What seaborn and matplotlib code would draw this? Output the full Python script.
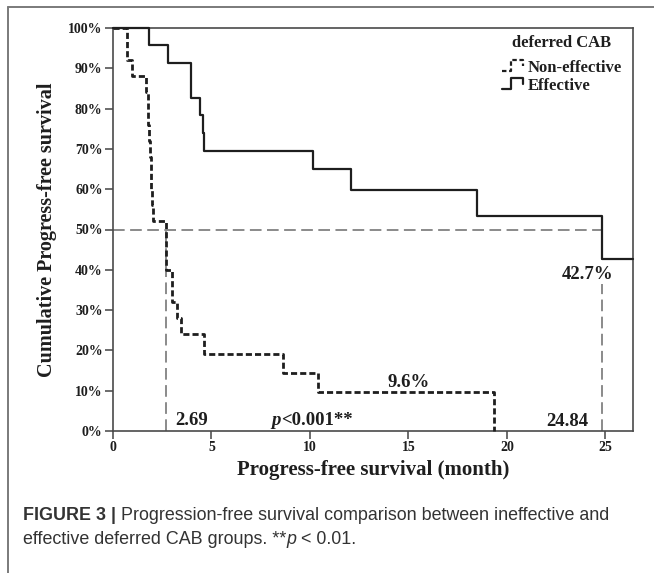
import matplotlib
matplotlib.use("Agg")
import matplotlib.pyplot as plt
import seaborn as sns
import pandas as pd
import numpy as np
from matplotlib.lines import Line2D
from matplotlib.legend_handler import HandlerBase

# ---------------- data ----------------
noneff_time = [0, 0.69, 0.95, 1.70, 1.76, 1.80, 1.84, 1.88, 1.92, 1.95, 1.99, 2.05,
               2.69, 2.97, 3.00, 3.23, 3.45, 4.62, 8.64, 10.39, 19.34]
noneff_surv = [1.00, 0.92, 0.88, 0.84, 0.80, 0.76, 0.72, 0.68, 0.64, 0.60, 0.56, 0.52,
               0.40, 0.36, 0.32, 0.28, 0.24, 0.192, 0.144, 0.096, 0.00]
eff_time = [0, 1.83, 2.77, 3.94, 4.42, 4.55, 4.63, 10.17, 12.06, 18.49, 24.84, 26.40]
eff_surv = [1.00, 0.957, 0.913, 0.826, 0.783, 0.739, 0.696, 0.649, 0.599, 0.533, 0.427, 0.427]

group_labels = ["Non-effective", "Effective"]
legend_title = "deferred CAB"
median_noneff = 2.69
median_eff = 24.84
median_level = 0.50
final_noneff_pct = "9.6%"
final_eff_pct = "42.7%"
p_text = "<0.001**"

y_ticks = [0.0, 0.1, 0.2, 0.3, 0.4, 0.5, 0.6, 0.7, 0.8, 0.9, 1.0]
y_ticklabels = ["0%", "10%", "20%", "30%", "40%", "50%", "60%", "70%", "80%", "90%", "100%"]
x_ticks = [0, 5, 10, 15, 20, 25]
x_label = "Progress-free survival (month)"
y_label = "Cumulative Progress-free survival"
caption_bold = "FIGURE 3 | "
caption_1 = "Progression-free survival comparison between ineffective and"
caption_2a = "effective deferred CAB groups. **"
caption_2b = "p"
caption_2c = " < 0.01."

df = pd.concat([
    pd.DataFrame({"time": noneff_time, "surv": noneff_surv, "group": group_labels[0]}),
    pd.DataFrame({"time": eff_time, "surv": eff_surv, "group": group_labels[1]}),
], ignore_index=True)

# ---------------- style ----------------
sns.set_theme(style="white")
plt.rcParams["font.family"] = ["Liberation Serif", "DejaVu Serif"]
plt.rcParams["font.weight"] = "bold"

W, H = 654, 573
fig = plt.figure(figsize=(W / 100, H / 100), dpi=100)
ax_l, ax_r, ax_t, ax_b = 113, 633, 28, 431
ax = fig.add_axes([ax_l / W, 1 - ax_b / H, (ax_r - ax_l) / W, (ax_b - ax_t) / H])

ink = "#1e1e1e"
gray = "#8a8a8a"

# reference (median) lines
ax.plot([0, median_eff], [median_level, median_level], color=gray, lw=1.4,
        dashes=(6.0, 2.8), zorder=1)
ax.plot([median_noneff, median_noneff], [0, median_level], color=gray, lw=1.4,
        dashes=(6.0, 2.8), zorder=1)
ax.plot([median_eff, median_eff], [0, median_level], color=gray, lw=1.4,
        dashes=(6.0, 2.8), zorder=1)

# survival curves
sns.lineplot(data=df[df.group == group_labels[0]], x="time", y="surv", ax=ax,
             estimator=None, sort=False, drawstyle="steps-post", color=ink,
             lw=2.0, legend=False, zorder=3)
line_non = ax.lines[-1]
line_non.set_dashes((2.2, 1.1))
sns.lineplot(data=df[df.group == group_labels[1]], x="time", y="surv", ax=ax,
             estimator=None, sort=False, drawstyle="steps-post", color=ink,
             lw=1.6, legend=False, zorder=3)
line_eff = ax.lines[-1]
for ln in (line_non, line_eff):
    ln.set_clip_on(False)

ax.set_xlim(0, 26.4)
ax.set_ylim(0, 1.0)
ax.set_yticks(y_ticks)
ax.set_yticklabels(y_ticklabels)
ax.set_xticks(x_ticks)
ax.set_xticklabels([str(v) for v in x_ticks])
ax.tick_params(axis="both", which="major", direction="out", length=6, width=1.1,
               color="#444444", labelsize=10, pad=1.5, labelcolor=ink)
ax.tick_params(axis="both", left=True, bottom=True)
for sp in ax.spines.values():
    sp.set_visible(True)
    sp.set_color("#4a4a4a")
    sp.set_linewidth(1.2)

ax.set_xlabel(x_label, fontsize=15, fontweight="bold", color=ink)
ax.xaxis.set_label_coords(0.5, (ax_b - 470) / (ax_b - ax_t))
ax.xaxis.label.set_verticalalignment("center")
ax.set_ylabel(y_label, fontsize=14.5, fontweight="bold", color=ink)
ax.yaxis.set_label_coords((47 - ax_l) / (ax_r - ax_l), 0.5)
ax.yaxis.label.set_verticalalignment("center")

# annotations
tkw = dict(fontsize=13.5, fontweight="bold", color=ink, va="baseline")
ax.text(3.15, 0.015, f"{median_noneff:.2f}", **tkw)
ax.text(22.0, 0.013, f"{median_eff:.2f}", **tkw)
ax.text(13.95, 0.11, final_noneff_pct, **tkw)
ax.text(22.8, 0.378, final_eff_pct, zorder=4,
        bbox=dict(facecolor="white", edgecolor="none", pad=1.0), **tkw)
tp = ax.text(8.05, 0.015, "p", fontstyle="italic", **tkw)
ax.annotate(p_text, xy=(1, 0), xycoords=tp, fontsize=13.5, fontweight="bold",
            color=ink, va="bottom", ha="left")

# legend with step-shaped handles
class StepHandler(HandlerBase):
    def create_artists(self, legend, orig_handle, xd, yd, w, h, fontsize, trans):
        xs = np.array([0.0, 0.38, 0.38, 0.85, 0.85]) * w - xd
        ys = np.array([0.15, 0.15, 0.95, 0.95, 0.55]) * h - yd
        ln = Line2D(xs, ys)
        ln.update_from(orig_handle)
        ln.set_transform(trans)
        return [ln]

h_non = Line2D([], [], color=ink, lw=1.6, dashes=(2.0, 1.2))
h_eff = Line2D([], [], color=ink, lw=1.6)
leg = ax.legend(handles=[h_non, h_eff], labels=group_labels, title=legend_title,
                loc="upper right", bbox_to_anchor=((622 - ax_l) / (ax_r - ax_l), 0.982),
                frameon=False, handler_map={Line2D: StepHandler()},
                handlelength=1.5, handleheight=0.9, handletextpad=0.05,
                labelspacing=0.08, borderpad=0, borderaxespad=0,
                prop={"family": "Liberation Serif", "weight": "bold", "size": 12},
                title_fontproperties={"family": "Liberation Serif", "weight": "bold",
                                      "size": 12})
leg._legend_box.sep = 6
for t in leg.get_texts():
    t.set_color(ink)
leg.get_title().set_color(ink)

# outer figure frame (top and left)
fig.add_artist(Line2D([8 / W, 1], [1 - 7 / H, 1 - 7 / H], transform=fig.transFigure,
                      color="#7a7a7a", lw=1.4))
fig.add_artist(Line2D([8 / W, 8 / W], [0, 1 - 7 / H], transform=fig.transFigure,
                      color="#7a7a7a", lw=1.4))

# caption
cap_font = ["Liberation Sans Narrow", "Liberation Sans"]
ckw = dict(fontsize=12.9, color="#333333", family=cap_font)
c1 = fig.text(23 / W, 1 - 516 / H, caption_bold, fontweight="bold", va="center",
              ha="left", **ckw)
plt.annotate(caption_1, xy=(1, 0), xycoords=c1, va="bottom", ha="left",
             fontweight="normal", annotation_clip=False, **ckw)
c2 = fig.text(23 / W, 1 - 540 / H, caption_2a, fontweight="normal", va="center",
              ha="left", **ckw)
c3 = plt.annotate(caption_2b, xy=(1, 0), xycoords=c2, va="bottom", ha="left",
                  fontweight="normal", fontstyle="italic", annotation_clip=False, **ckw)
plt.annotate(caption_2c, xy=(1, 0), xycoords=c3, va="bottom", ha="left",
             fontweight="normal", annotation_clip=False, **ckw)

fig.savefig("out.png", dpi=100, facecolor="white")
